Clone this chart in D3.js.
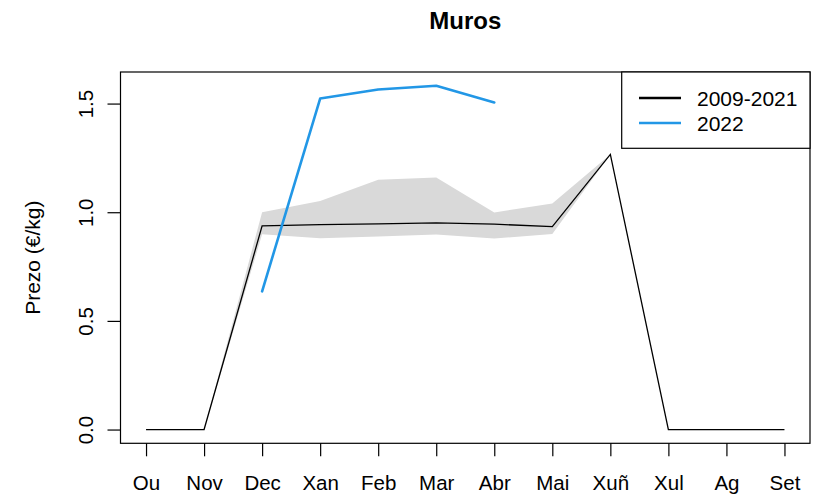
<!DOCTYPE html>
<html>
<head>
<meta charset="utf-8">
<script src="https://cdn.jsdelivr.net/npm/d3@7"></script>
<style>
  html, body { margin: 0; padding: 0; background: #fff; }
  svg { display: block; font-family: "Liberation Sans", Arial, sans-serif; }
</style>
</head>
<body>
<svg id="chart" width="816" height="497"></svg>
<script>
const months = ["Ou","Nov","Dec","Xan","Feb","Mar","Abr","Mai","Xuñ","Xul","Ag","Set"];
const mean0921 = [0, 0, 0.937, 0.943, 0.946, 0.951, 0.945, 0.934, 1.266, 0, 0, 0];
const upper0921 = [0, 0, 1.000, 1.052, 1.149, 1.160, 0.999, 1.040, 1.266, 0, 0, 0];
const lower0921 = [0, 0, 0.899, 0.880, 0.888, 0.897, 0.879, 0.900, 1.266, 0, 0, 0];
const months2022 = ["Dec","Xan","Feb","Mar","Abr"];
const values2022 = [0.636, 1.523, 1.565, 1.582, 1.505];
const yTicks = [0, 0.5, 1.0, 1.5];
const yTickLabels = ["0.0", "0.5", "1.0", "1.5"];
const legendLabels = ["2009-2021", "2022"];
const title = "Muros";
const yTitle = "Prezo (€/kg)";

const svg = d3.select("#chart");
const L = 120.5, R = 810, T = 72, B = 443.3;

// R-style 4% extension
const xMin = 1, xMax = months.length;
const xExt = (xMax - xMin) * 0.04;
const x = d3.scaleLinear().domain([xMin - xExt, xMax + xExt]).range([L, R]);
const yMaxData = d3.max([...mean0921, ...upper0921, ...values2022]);
const yExt = yMaxData * 0.04;
const y = d3.scaleLinear().domain([0 - yExt, yMaxData + yExt]).range([B, T]);

const idx = m => months.indexOf(m) + 1;

// band
const band = d3.area()
  .x((d, i) => x(i + 1))
  .y0((d, i) => y(lower0921[i]))
  .y1((d, i) => y(upper0921[i]));
svg.append("path").datum(months).attr("d", band)
  .attr("fill", "#d9d9d9").attr("stroke", "none");

// mean line
const line = d3.line().x((d, i) => x(i + 1)).y(d => y(d));
svg.append("path").datum(mean0921).attr("d", line)
  .attr("fill", "none").attr("stroke", "#000").attr("stroke-width", 1.3);

// 2022 line
const line22 = d3.line().x((d, i) => x(idx(months2022[i]))).y(d => y(d));
svg.append("path").datum(values2022).attr("d", line22)
  .attr("fill", "none").attr("stroke", "#2297E6").attr("stroke-width", 2.6)
  .attr("stroke-linecap", "round").attr("stroke-linejoin", "round");

// box
svg.append("rect").attr("x", L).attr("y", T).attr("width", R - L).attr("height", B - T)
  .attr("fill", "none").attr("stroke", "#000").attr("stroke-width", 1.2);

// x axis
const xAxis = d3.axisBottom(x)
  .tickValues(d3.range(1, months.length + 1))
  .tickFormat(d => months[d - 1])
  .tickSize(13).tickSizeOuter(0);
const gx = svg.append("g").attr("transform", `translate(0,${B})`).call(xAxis);
gx.select(".domain").remove();
gx.selectAll(".tick line").attr("stroke", "#000").attr("stroke-width", 1.2);
gx.selectAll(".tick text").attr("y", 47).attr("dy", 0)
  .attr("font-size", 20.5).attr("fill", "#000")
  .style("font-family", "'Liberation Sans', Arial, sans-serif");

// y axis
const yAxis = d3.axisLeft(y).tickValues(yTicks)
  .tickFormat((d, i) => yTickLabels[i]).tickSize(13).tickSizeOuter(0);
const gy = svg.append("g").attr("transform", `translate(${L},0)`).call(yAxis);
gy.select(".domain").remove();
gy.selectAll(".tick line").attr("stroke", "#000").attr("stroke-width", 1.2);
gy.selectAll(".tick text")
  .attr("x", 0).attr("y", 0).attr("dy", 0)
  .attr("transform", "translate(-28,0) rotate(-90)")
  .attr("text-anchor", "middle")
  .attr("font-size", 20.5).attr("fill", "#000")
  .style("font-family", "'Liberation Sans', Arial, sans-serif");

// y title
svg.append("text").attr("transform", `translate(40,${(T + B) / 2}) rotate(-90)`)
  .attr("text-anchor", "middle").attr("font-size", 21).attr("fill", "#000")
  .text(yTitle);

// title
svg.append("text").attr("x", (L + R) / 2).attr("y", 29)
  .attr("text-anchor", "middle").attr("font-size", 24).attr("font-weight", "bold")
  .attr("fill", "#000").text(title);

// legend
const lg = svg.append("g");
lg.append("rect").attr("x", 621.7).attr("y", T).attr("width", R - 621.7).attr("height", 148.3 - T)
  .attr("fill", "#fff").attr("stroke", "#000").attr("stroke-width", 1.2);
const legColors = ["#000", "#2297E6"];
legendLabels.forEach((lab, i) => {
  const ly = 98 + i * 25;
  lg.append("line").attr("x1", 639).attr("x2", 681).attr("y1", ly).attr("y2", ly)
    .attr("stroke", legColors[i]).attr("stroke-width", 2.6);
  lg.append("text").attr("x", 697).attr("y", ly).attr("dy", "0.36em")
    .attr("font-size", 21).attr("fill", "#000").text(lab);
});
</script>
</body>
</html>
